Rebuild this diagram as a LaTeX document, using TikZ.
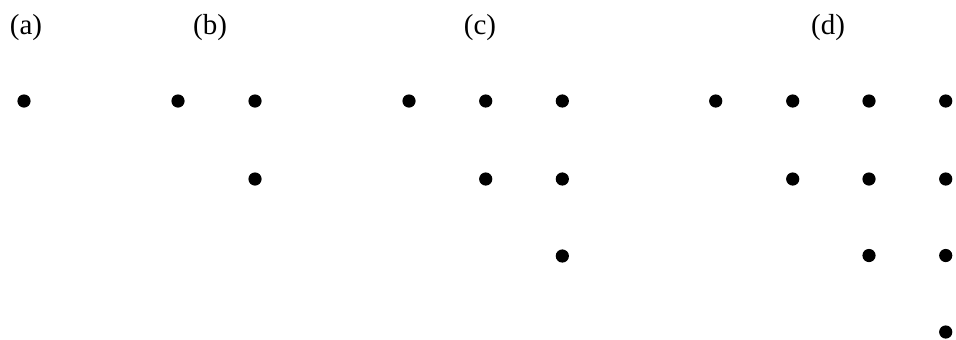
\documentclass[tikz,border=0pt]{standalone}
\usepackage{fontspec}
\setmainfont{Liberation Serif}
\begin{document}
\begin{tikzpicture}[x=0.5pt,y=-0.5pt,
  pt/.style={circle,fill=black,inner sep=0pt,minimum size=6.6pt},
  lbl/.style={font=\fontsize{14.5}{17}\selectfont,inner sep=0pt}]
\useasboundingbox (0,0) rectangle (956,339);
% labels
\node[lbl] (la) at (26,27.5) {(a)};
\node[lbl] (lb) at (210,27.5) {(b)};
\node[lbl] (lc) at (480,27.5) {(c)};
\node[lbl] (ld) at (828,27.5) {(d)};
% (a)
\node[pt] (a11) at (24,101) {};
% (b)
\node[pt] (b11) at (178,101) {};
\node[pt] (b12) at (255,101) {};
\node[pt] (b22) at (255,179) {};
% (c)
\node[pt] (c11) at (409,101) {};
\node[pt] (c12) at (485.7,101) {};
\node[pt] (c13) at (562.3,101) {};
\node[pt] (c22) at (485.7,179) {};
\node[pt] (c23) at (562.3,179) {};
\node[pt] (c33) at (562.3,256) {};
% (d)
\node[pt] (d11) at (715.7,101) {};
\node[pt] (d12) at (792.7,101) {};
\node[pt] (d13) at (869,101) {};
\node[pt] (d14) at (945.7,101) {};
\node[pt] (d22) at (792.7,179) {};
\node[pt] (d23) at (869,179) {};
\node[pt] (d24) at (945.7,179) {};
\node[pt] (d33) at (869,255.5) {};
\node[pt] (d34) at (945.7,255.5) {};
\node[pt] (d44) at (945.7,332) {};
\end{tikzpicture}
\end{document}
